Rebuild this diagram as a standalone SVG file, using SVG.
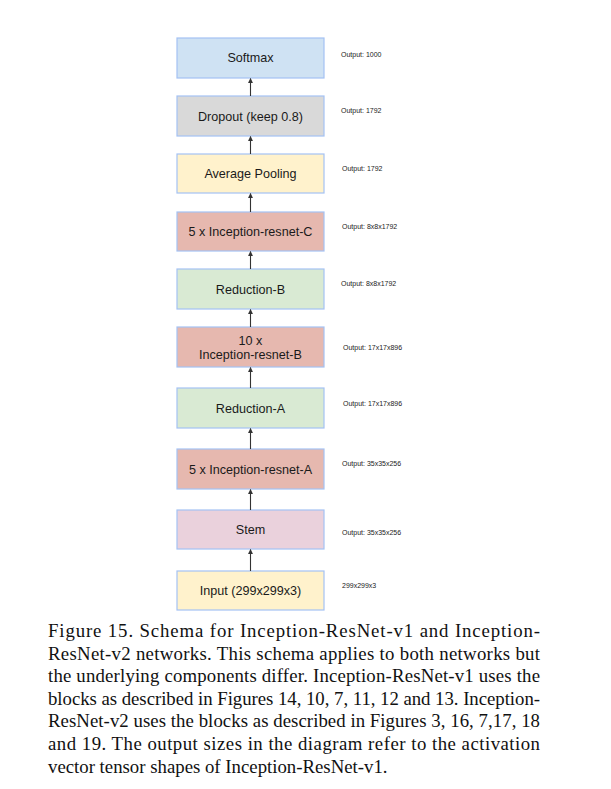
<svg xmlns="http://www.w3.org/2000/svg" width="611" height="789" viewBox="0 0 611 789">
<defs>
<marker id="ah" viewBox="0 0 6 6" refX="5.5" refY="3" markerWidth="5" markerHeight="5" markerUnits="userSpaceOnUse" orient="auto">
<path d="M0,0 L6,3 L0,6 z" fill="#333"/>
</marker>
</defs>
<style>
.box{stroke:#a4c2f4;stroke-width:1.2}
.lbl{font-family:"Liberation Sans",Arial,sans-serif;font-size:12.6px;fill:#1a1a1a;text-anchor:middle;dominant-baseline:central}
.out{font-family:"Liberation Sans",Arial,sans-serif;font-size:7px;fill:#222;dominant-baseline:central}
.cap{font-family:"Liberation Serif","Times New Roman",serif;font-size:18.8px;fill:#111}
.conn line{stroke:#333;stroke-width:1.1;marker-end:url(#ah)}
</style>
<rect width="611" height="789" fill="#fff"/>
<g id="softmax"><rect class="box" x="177" y="38" width="147" height="40" fill="#cfe2f3"/><text class="lbl" x="250.5" y="58">Softmax</text><text class="out" x="341" y="54">Output: 1000</text></g>
<g id="dropout"><rect class="box" x="177" y="96" width="147" height="40" fill="#d9d9d9"/><text class="lbl" x="250.5" y="117">Dropout (keep 0.8)</text><text class="out" x="341" y="110">Output: 1792</text></g>
<g id="avgpool"><rect class="box" x="177" y="154" width="147" height="39" fill="#fff2cc"/><text class="lbl" x="250.5" y="174">Average Pooling</text><text class="out" x="342" y="168">Output: 1792</text></g>
<g id="incC"><rect class="box" x="177" y="212" width="147" height="39" fill="#e6b8af"/><text class="lbl" x="250.5" y="232">5 x Inception-resnet-C</text><text class="out" x="342" y="226">Output: 8x8x1792</text></g>
<g id="redB"><rect class="box" x="177" y="269" width="147" height="40" fill="#d9ead3"/><text class="lbl" x="250.5" y="290">Reduction-B</text><text class="out" x="341" y="283">Output: 8x8x1792</text></g>
<g id="incB"><rect class="box" x="177" y="327" width="147" height="40" fill="#e6b8af"/><text class="lbl" x="250.5" y="341">10 x</text><text class="lbl" x="250.5" y="355">Inception-resnet-B</text><text class="out" x="343" y="347">Output: 17x17x896</text></g>
<g id="redA"><rect class="box" x="177" y="388" width="147" height="40" fill="#d9ead3"/><text class="lbl" x="250.5" y="409">Reduction-A</text><text class="out" x="343" y="403">Output: 17x17x896</text></g>
<g id="incA"><rect class="box" x="177" y="449" width="147" height="40" fill="#e6b8af"/><text class="lbl" x="250.5" y="470">5 x Inception-resnet-A</text><text class="out" x="342" y="463">Output: 35x35x256</text></g>
<g id="stem"><rect class="box" x="177" y="510" width="147" height="39" fill="#ead1dc"/><text class="lbl" x="250.5" y="530">Stem</text><text class="out" x="342" y="532">Output: 35x35x256</text></g>
<g id="input"><rect class="box" x="177" y="571" width="147" height="39" fill="#fff2cc"/><text class="lbl" x="250.5" y="591">Input (299x299x3)</text><text class="out" x="342" y="585">299x299x3</text></g>
<g class="conn" id="connectors">
<line x1="250.5" y1="96" x2="250.5" y2="78.5"/>
<line x1="250.5" y1="154" x2="250.5" y2="136.5"/>
<line x1="250.5" y1="212" x2="250.5" y2="193.5"/>
<line x1="250.5" y1="269" x2="250.5" y2="251.5"/>
<line x1="250.5" y1="327" x2="250.5" y2="309.5"/>
<line x1="250.5" y1="388" x2="250.5" y2="367.5"/>
<line x1="250.5" y1="449" x2="250.5" y2="428.5"/>
<line x1="250.5" y1="510" x2="250.5" y2="489.5"/>
<line x1="250.5" y1="571" x2="250.5" y2="549.5"/>
</g>
<g id="caption">
<text class="cap" x="48" y="637" textLength="492" lengthAdjust="spacing">Figure 15. Schema for Inception-ResNet-v1 and Inception-</text>
<text class="cap" x="48" y="659.6" textLength="492" lengthAdjust="spacing">ResNet-v2 networks. This schema applies to both networks but</text>
<text class="cap" x="48" y="682.2" textLength="492" lengthAdjust="spacing">the underlying components differ. Inception-ResNet-v1 uses the</text>
<text class="cap" x="48" y="704.8" textLength="492" lengthAdjust="spacing">blocks as described in Figures 14, 10, 7, 11, 12 and 13. Inception-</text>
<text class="cap" x="48" y="727.4" textLength="492" lengthAdjust="spacing">ResNet-v2 uses the blocks as described in Figures 3, 16, 7,17, 18</text>
<text class="cap" x="48" y="750" textLength="492" lengthAdjust="spacing">and 19. The output sizes in the diagram refer to the activation</text>
<text class="cap" x="48" y="772.6">vector tensor shapes of Inception-ResNet-v1.</text>
</g>
</svg>
